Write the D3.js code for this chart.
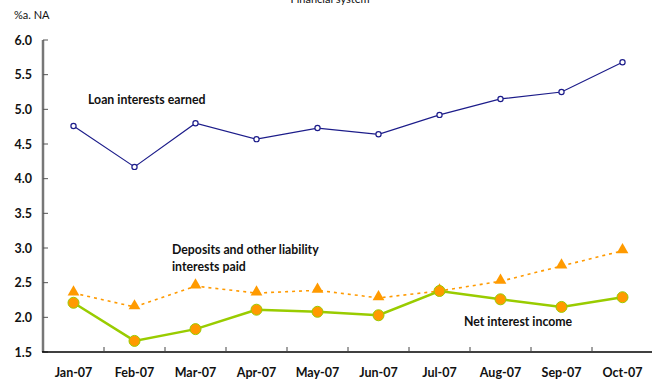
<!DOCTYPE html>
<meta charset="utf-8">
<style>
body { margin: 0; background: #fff; }
text { font-family: Lato, "Open Sans", sans-serif; fill: #111; }
.tick-lbl { font-size: 12.5px; font-weight: bold; }
.note { font-size: 12.3px; font-weight: bold; }
</style>
<svg width="652" height="382"></svg>
<script src="https://cdnjs.cloudflare.com/ajax/libs/d3/7.8.5/d3.min.js"></script>
<script>

var months = ["Jan-07","Feb-07","Mar-07","Apr-07","May-07","Jun-07","Jul-07","Aug-07","Sep-07","Oct-07"];
var loanEarned = [4.76, 4.17, 4.80, 4.57, 4.73, 4.64, 4.92, 5.15, 5.25, 5.68];
var depositsPaid = [2.35, 2.15, 2.45, 2.35, 2.39, 2.28, 2.38, 2.52, 2.74, 2.96];
var netIncome = [2.21, 1.66, 1.83, 2.11, 2.08, 2.03, 2.38, 2.26, 2.15, 2.29];
var yTicks = [1.5, 2.0, 2.5, 3.0, 3.5, 4.0, 4.5, 5.0, 5.5, 6.0];

var svg = d3.select("svg");

var x = d3.scaleBand().domain(months).range([43, 653]);
var y = d3.scaleLinear().domain([1.5, 6.0]).range([352, 40]);
var cx = function(i) { return x(months[i]) + x.bandwidth() / 2; };

// title (cut off at top in the original too) and unit
svg.append("text").attr("x", 330).attr("y", 3).attr("text-anchor", "middle")
    .style("font-size", "11px").text("Financial system");
svg.append("text").attr("x", 14).attr("y", 19)
    .style("font-size", "11px").text("%a. NA");

// y axis
svg.append("line").attr("x1", 43).attr("x2", 43).attr("y1", y(6.0)).attr("y2", y(1.5))
    .attr("stroke", "#777").attr("stroke-width", 2.5);
svg.selectAll(".ytick").data(yTicks).enter().append("line")
    .attr("x1", 43).attr("x2", 48)
    .attr("y1", d => y(d)).attr("y2", d => y(d))
    .attr("stroke", "#555").attr("stroke-width", 1);
svg.selectAll(".ylbl").data(yTicks).enter().append("text")
    .attr("class", "tick-lbl")
    .attr("x", 32).attr("y", d => y(d) + 4.5)
    .attr("text-anchor", "end")
    .text(d => d.toFixed(1));

// x axis
svg.append("line").attr("x1", 42).attr("x2", 652).attr("y1", 352).attr("y2", 352)
    .attr("stroke", "#000").attr("stroke-width", 1.5);
svg.selectAll(".xtick").data(months.slice(1)).enter().append("line")
    .attr("x1", d => x(d)).attr("x2", d => x(d))
    .attr("y1", 352).attr("y2", 347)
    .attr("stroke", "#444").attr("stroke-width", 1);
svg.selectAll(".xlbl").data(months).enter().append("text")
    .attr("class", "tick-lbl")
    .attr("x", (d, i) => cx(i)).attr("y", 377)
    .attr("text-anchor", "middle")
    .text(d => d);

var line = d3.line().x((d, i) => cx(i)).y(d => y(d));

// loan interests earned
svg.append("path").datum(loanEarned).attr("d", line)
    .attr("fill", "none").attr("stroke", "#1c1c8a").attr("stroke-width", 1.2);
svg.selectAll(".loan").data(loanEarned).enter().append("circle")
    .attr("cx", (d, i) => cx(i)).attr("cy", d => y(d)).attr("r", 2.6)
    .attr("fill", "#fff").attr("stroke", "#1c1c8a").attr("stroke-width", 1.2);

// deposits paid
svg.append("path").datum(depositsPaid).attr("d", line)
    .attr("fill", "none").attr("stroke", "#ff9a00").attr("stroke-width", 1.6)
    .attr("stroke-dasharray", "3,4");
svg.selectAll(".dep").data(depositsPaid).enter().append("path")
    .attr("d", d3.symbol().type(d3.symbolTriangle).size(60))
    .attr("transform", (d, i) => "translate(" + cx(i) + "," + (y(d) - 1) + ")")
    .attr("fill", "#ff9a00");

// net interest income
svg.append("path").datum(netIncome).attr("d", line)
    .attr("fill", "none").attr("stroke", "#99cc00").attr("stroke-width", 2.5);
svg.selectAll(".net").data(netIncome).enter().append("circle")
    .attr("cx", (d, i) => cx(i)).attr("cy", d => y(d)).attr("r", 5.5)
    .attr("fill", "#ff9a00").attr("stroke", "#99cc00").attr("stroke-width", 1);

// series notes
svg.append("text").attr("class", "note").attr("x", 88).attr("y", 104).text("Loan interests earned");
svg.append("text").attr("class", "note").attr("x", 172).attr("y", 254).text("Deposits and other liability");
svg.append("text").attr("class", "note").attr("x", 172).attr("y", 271).text("interests paid");
svg.append("text").attr("class", "note").attr("x", 464).attr("y", 326).text("Net interest income");

</script>
